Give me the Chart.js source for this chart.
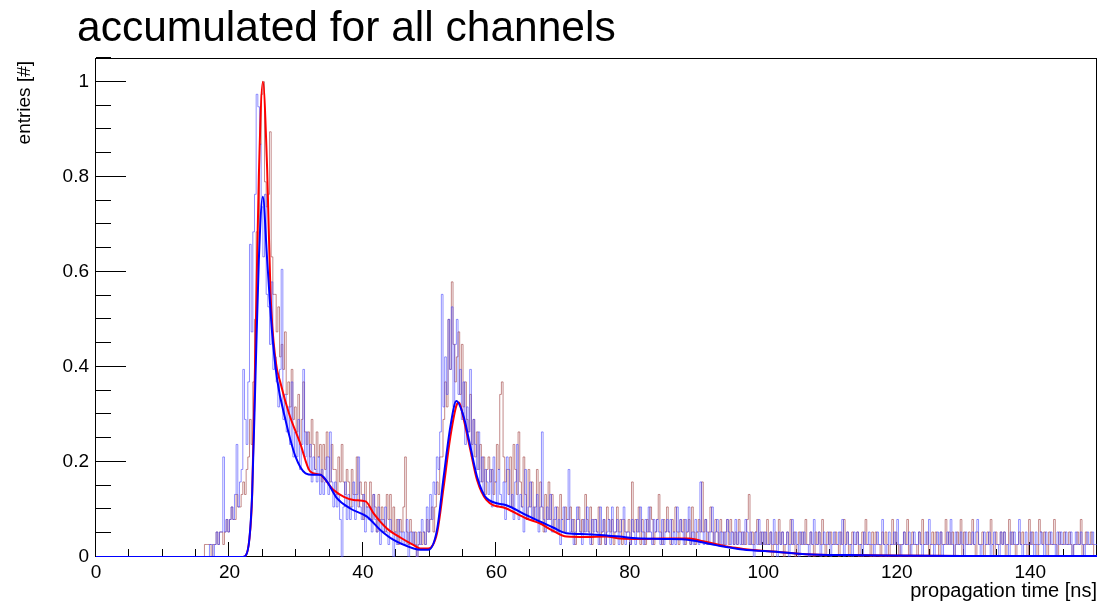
<!DOCTYPE html>
<html>
<head>
<meta charset="utf-8">
<script src="https://cdn.jsdelivr.net/npm/chart.js@4.4.1/dist/chart.umd.min.js"></script>
<style>
  body { margin: 0; background: #fff; }
  canvas { display: block; }
</style>
</head>
<body>
<canvas id="propChart" width="1101" height="605"></canvas>
<script>
// histogram binning (ns) and count per unit height
var binStart = 16;
var binWidth = 0.25;
var histNorm = 38;

// red histogram, counts per 0.25 ns bin, one row = 5 ns (16 .. 150)
var redCounts = [
  0,0,1,1, 1,1,0,1, 1,2,1,2, 2,1,2,3, 2,3,4,3,
  3,5,4,4, 5,6,5,7, 8,11,9,14, 19,26,24,33, 37,38,30,28,
  29,34,24,21, 21,18,20,16, 17,15,18,13, 14,12,15,11, 12,10,13,9,
  11,14,10,9, 10,8,11,9, 7,10,8,9, 6,9,7,10, 8,6,9,7,
  7,5,8,6, 9,6,5,7, 6,4,7,5, 5,8,4,6, 5,3,6,4,
  4,6,3,5, 4,2,5,3, 4,3,2,5, 3,5,2,4, 2,3,1,3,
  2,4,8,2, 1,3,2,1, 2,0,1,2, 1,2,1,3, 2,3,4,2,
  4,6,5,8, 8,11,14,12, 19,15,22,17, 14,16,18,13, 17,12,14,11,
  10,13,9,11, 8,10,7,9, 6,8,5,7, 8,6,7,5, 6,9,7,13,
  14,8,6,7, 5,8,4,9, 7,5,10,6, 4,8,5,3, 7,4,6,3,
  4,7,3,6, 4,2,5,3, 6,3,5,2, 3,4,2,5, 3,2,4,3,
  3,4,2,3, 1,3,4,2, 3,2,5,3, 2,4,1,3, 3,2,4,1,
  2,3,1,4, 3,2,3,1, 2,4,2,3, 1,3,2,2, 3,1,6,2,
  3,2,4,1, 3,2,1,3, 2,4,3,1, 2,3,5,2, 1,3,2,4,
  2,1,3,2, 4,2,1,3, 2,3,1,2, 3,1,4,2, 1,2,3,2,
  6,2,3,1, 2,4,2,1, 3,2,1,3, 2,1,2,3, 1,3,2,1,
  2,1,3,2, 1,2,1,3, 5,1,2,1, 2,3,1,2, 1,2,1,3,
  1,2,0,1, 2,1,3,1, 2,0,1,2, 1,3,1,2, 0,1,2,1,
  2,1,3,1, 1,2,1,0, 2,1,2,1, 3,1,0,2, 1,2,1,1,
  2,1,0,2, 1,3,1,2, 0,1,2,1, 1,2,0,1, 2,1,3,1,
  1,0,2,1, 2,1,1,0, 2,1,2,1, 0,1,3,1, 2,1,0,1,
  1,2,1,3, 0,1,2,1, 1,0,2,1, 3,1,1,2, 0,1,2,1,
  2,1,0,2, 1,1,3,1, 2,1,2,0, 1,2,1,3, 0,2,1,1,
  2,1,3,1, 0,2,1,1, 2,0,1,2, 1,3,1,0, 2,1,1,2,
  1,2,0,1, 3,1,2,1, 0,1,2,1, 2,1,1,0, 3,1,2,1,
  1,0,3,2, 1,2,1,0, 2,1,1,3, 1,0,2,1, 1,2,1,1,
  2,1,0,1, 1,2,1,3, 0,1,2,1, 1,2,1,0
];

// blue histogram, same binning
var blueCounts = [
  0,0,0,0, 0,1,1,0, 1,2,1,2, 2,8,2,3, 2,3,4,3,
  5,9,4,6, 7,15,11,9, 14,25,18,26, 29,37,36,33, 28,24,29,21,
  20,17,22,15, 16,14,12,15, 23,11,13,10, 12,9,14,8, 10,8,11,7,
  9,15,8,10, 7,9,6,8, 7,6,8,5, 7,5,6,8, 5,10,6,4,
  6,4,5,3, 0,4,6,3, 5,3,4,6, 3,5,8,4, 3,5,2,4,
  3,4,2,5, 3,2,4,1, 3,2,4,2, 1,3,2,0, 2,1,3,2,
  1,2,1,3, 0,2,1,2, 1,0,2,1, 3,2,1,4, 2,5,3,6,
  5,8,7,10, 21,12,16,13, 19,15,20,12, 17,19,13,15, 11,14,9,12,
  10,15,8,11, 9,7,10,6, 8,5,7,6, 5,7,4,8, 6,4,7,5,
  4,6,3,8, 7,4,5,3, 6,9,3,5, 4,2,7,3, 4,6,3,4,
  3,5,2,4, 10,3,2,4, 3,5,2,3, 4,2,3,1, 3,4,2,3,
  7,2,3,1, 2,4,3,2, 1,3,2,4, 2,1,3,2, 3,2,1,4,
  2,3,1,2, 3,1,4,2, 2,3,1,2, 3,4,1,2, 2,1,3,2,
  1,3,2,4, 2,1,3,2, 4,2,1,3, 2,3,2,1, 3,1,2,3,
  2,3,1,2, 1,4,2,3, 2,1,3,2, 4,1,2,1, 3,2,1,6,
  2,1,3,2, 1,2,4,1, 2,3,1,2, 1,2,1,3, 2,1,2,1,
  3,1,2,1, 2,1,3,2, 1,2,1,0, 2,1,3,1, 2,1,2,1,
  1,2,1,3, 1,0,2,1, 2,1,1,2, 0,1,3,1, 2,1,0,2,
  1,2,1,1, 0,2,1,3, 1,1,2,0, 1,2,1,1, 2,0,1,2,
  1,1,2,1, 3,0,1,2, 1,1,0,2, 1,2,1,1, 0,2,1,1,
  2,1,1,0, 1,2,1,1, 3,1,0,1, 2,1,1,2, 1,3,1,0,
  1,2,1,1, 2,0,1,2, 1,1,2,1, 0,1,2,1, 3,1,1,0,
  1,2,1,2, 0,1,1,2, 1,3,1,0, 2,1,1,2, 1,0,2,1,
  1,1,2,1, 2,3,1,0, 1,2,1,1, 2,0,1,2, 1,1,0,2,
  1,2,1,1, 0,2,1,2, 1,1,3,1, 0,1,2,1, 1,2,1,0,
  2,1,1,2, 1,0,2,1, 1,2,1,1, 0,2,1,2, 1,1,2,1,
  1,2,0,1, 2,1,1,2, 1,0,1,2, 1,1,2,1
];

// smoothed curves (time in ns, normalised entries)
var redFitT = [0,22,22.4,23,23.4,23.9,24.4,25,25.65,26.15,26.9,27.65,28.9,30.6,32.1,33.6,35.6,38.6,
  40.4,41.6,43.6,45.6,47.6,48.6,49.8,51.1,52.1,53.1,54.1,54.4,55.1,56.1,57.1,58.5,61.5,64.5,66.5,68.5,
  70.5,73.5,76.5,78.5,82,85,88.9,91,93,95,97,99,102,106.4,112.9,118,130,150];
var redFitV = [0,0,0.002,0.04,0.13,0.45,0.8,1.0,0.815,0.555,0.415,0.366,0.303,0.239,0.18,0.173,0.141,0.12,
  0.117,0.092,0.06,0.041,0.025,0.018,0.018,0.05,0.148,0.253,0.322,0.325,0.29,0.225,0.162,0.12,0.102,0.081,0.071,0.055,
  0.043,0.042,0.043,0.039,0.038,0.039,0.039,0.033,0.027,0.021,0.017,0.014,0.011,0.006,0.004,0.003,0.002,0.002];

var blueFitT = [0,22,22.4,23,23.4,23.9,24.4,25,25.65,26.4,27.15,28.4,29.9,31.4,32.5,33.6,34.6,36.1,
  38.1,40.6,42.6,44.6,47.6,48.6,49.8,51.1,52.1,53.1,54.0,55.1,56.1,57.1,58.5,61.5,64.5,66.5,68.5,70.5,
  73.5,76.5,78.5,80.4,85,88.9,92.9,96.9,101.9,106.4,112.9,118,130,150];
var blueFitV = [0,0,0.002,0.04,0.134,0.38,0.625,0.758,0.625,0.471,0.373,0.288,0.211,0.176,0.173,0.173,0.159,0.124,
  0.102,0.085,0.057,0.036,0.018,0.015,0.015,0.057,0.169,0.274,0.328,0.295,0.232,0.169,0.124,0.109,0.088,0.075,0.062,0.05,
  0.048,0.045,0.043,0.04,0.038,0.036,0.025,0.016,0.011,0.006,0.004,0.003,0.002,0.002];

// axis ticks
var xTickLabels = [0, 20, 40, 60, 80, 100, 120, 140];
var xMinorStep = 5;
var yTickLabels = [0, 0.2, 0.4, 0.6, 0.8, 1];
var yMinorStep = 0.05;

var FONT = '"Liberation Sans", Arial, Helvetica, sans-serif';

function histPoints(counts) {
    var pts = counts.map(function (c, i) {
        return { x: binStart + i * binWidth, y: c / histNorm };
    });
    pts.push({ x: binStart + counts.length * binWidth, y: counts[counts.length - 1] / histNorm });
    return pts;
}

function curvePoints(ts, vs) {
    return ts.map(function (t, i) { return { x: t, y: vs[i] }; });
}

// ROOT style frame: box, inward ticks, labels and titles
var rootFrame = {
    id: 'rootFrame',
    beforeDatasetsDraw: function (chart) {
        var ctx = chart.ctx, a = chart.chartArea;
        var xs = chart.scales.x, ys = chart.scales.y;
        ctx.save();
        ctx.strokeStyle = '#000';
        ctx.lineWidth = 1;
        ctx.strokeRect(a.left - 0.5, a.top + 0.5, a.right - a.left, a.bottom - a.top - 1);

        ctx.beginPath();
        for (var t = xs.min; t <= xs.max + 1e-9; t += xMinorStep) {
            var px = Math.round(xs.getPixelForValue(t)) - 0.5;
            var len = xTickLabels.indexOf(t) >= 0 ? 15 : 8;
            ctx.moveTo(px, a.bottom);
            ctx.lineTo(px, a.bottom - len);
        }
        for (var k = 0; k * yMinorStep <= ys.max + 1e-9; k++) {
            var v = k * yMinorStep;
            var py = Math.round(ys.getPixelForValue(v)) - 0.5;
            var major = Math.round(v * 100) % 20 === 0;
            ctx.moveTo(a.left, py);
            ctx.lineTo(a.left + (major ? 30 : 15), py);
        }
        ctx.stroke();
        ctx.restore();
    },
    afterDraw: function (chart) {
        var ctx = chart.ctx, a = chart.chartArea;
        var xs = chart.scales.x, ys = chart.scales.y;
        ctx.save();
        ctx.fillStyle = '#000';

        ctx.font = '19px ' + FONT;
        ctx.textAlign = 'center';
        ctx.textBaseline = 'top';
        xTickLabels.forEach(function (t) {
            ctx.fillText(String(t), xs.getPixelForValue(t), a.bottom + 6);
        });
        ctx.textAlign = 'right';
        ctx.textBaseline = 'middle';
        yTickLabels.forEach(function (v) {
            ctx.fillText(String(v), a.left - 7, ys.getPixelForValue(v));
        });

        ctx.font = '20px ' + FONT;
        ctx.textAlign = 'right';
        ctx.textBaseline = 'alphabetic';
        ctx.fillText('propagation time [ns]', a.right, 597);

        ctx.save();
        ctx.translate(30, a.top + 3);
        ctx.rotate(-Math.PI / 2);
        ctx.font = '19px ' + FONT;
        ctx.textAlign = 'right';
        ctx.fillText('entries [#]', 0, 0);
        ctx.restore();

        ctx.font = '42.5px ' + FONT;
        ctx.textAlign = 'left';
        ctx.fillText('accumulated for all channels', 77, 41);
        ctx.restore();
    }
};

var ctx = document.getElementById('propChart');
new Chart(ctx, {
    type: 'line',
    data: {
        datasets: [
            {
                label: 'blue fit',
                data: curvePoints(blueFitT, blueFitV),
                borderColor: '#0000ff',
                borderWidth: 2,
                cubicInterpolationMode: 'monotone',
                pointRadius: 0,
                order: 0
            },
            {
                label: 'red fit',
                data: curvePoints(redFitT, redFitV),
                borderColor: '#ff0000',
                borderWidth: 2,
                cubicInterpolationMode: 'monotone',
                pointRadius: 0,
                order: 1
            },
            {
                label: 'blue histogram',
                data: histPoints(blueCounts),
                borderColor: 'rgba(70, 70, 255, 0.6)',
                borderWidth: 1,
                stepped: 'after',
                pointRadius: 0,
                order: 2
            },
            {
                label: 'red histogram',
                data: histPoints(redCounts),
                borderColor: 'rgba(165, 75, 75, 0.65)',
                borderWidth: 1,
                stepped: 'after',
                pointRadius: 0,
                order: 3
            }
        ]
    },
    options: {
        responsive: false,
        animation: false,
        layout: { padding: { left: 96, right: 4, top: 58, bottom: 48 } },
        plugins: {
            legend: { display: false },
            tooltip: { enabled: false },
            title: { display: false }
        },
        scales: {
            x: { type: 'linear', min: 0, max: 150, display: false },
            y: { type: 'linear', min: 0, max: 1.05, display: false }
        }
    },
    plugins: [rootFrame]
});
</script>
</body>
</html>
